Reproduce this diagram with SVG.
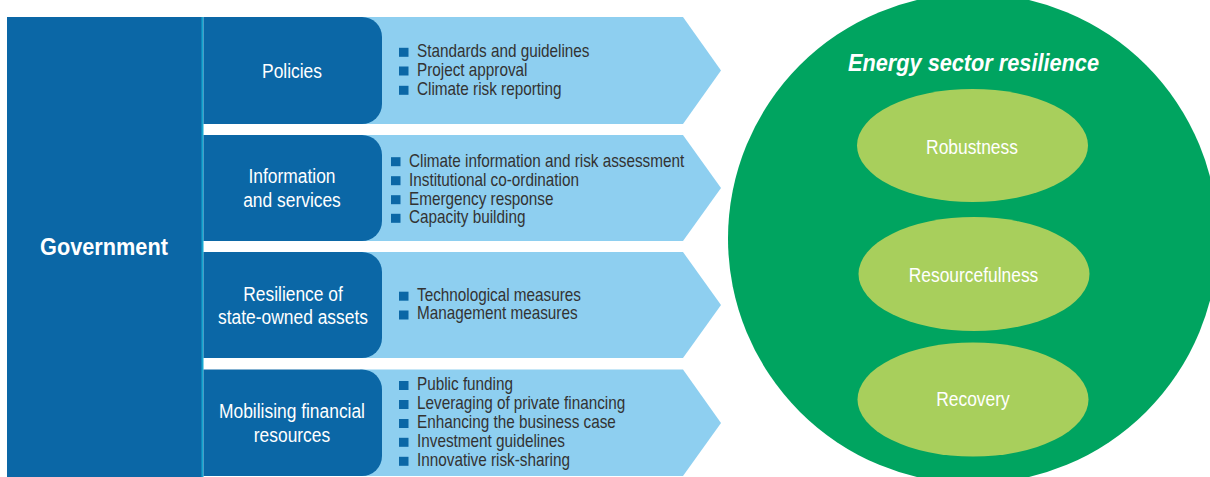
<svg xmlns="http://www.w3.org/2000/svg" width="1210" height="477" viewBox="0 0 1210 477">
<style>
.dk{fill:#0B67A6}
.chev{fill:#8ECFF0}
.cyan{fill:#16A7CF}
.lbl{fill:#FFFFFF;font-family:"Liberation Sans",Arial,sans-serif;font-size:20px;text-anchor:middle}
.itm{fill:#333333;font-family:"Liberation Sans",Arial,sans-serif;font-size:18px}
.sq{fill:#0B67A6}
.ttl{fill:#FFFFFF;font-family:"Liberation Sans",Arial,sans-serif;font-size:24px;font-weight:bold;text-anchor:middle}
.ell{fill:#A8CF5C}
</style>
<rect width="1210" height="477" fill="#FFFFFF"/>

<g id="government">
  <rect class="dk" x="7" y="17" width="195" height="460"/>
  <rect class="cyan" x="201.5" y="17" width="2" height="460"/>
  <text class="ttl" transform="translate(104,255) scale(0.905,1)">Government</text>
</g>

<g id="row-policies">
  <polygon class="chev" points="360,17 683,17 721,70.5 683,124 360,124"/>
  <path class="dk" d="M203.5,17 H362 A20,20 0 0 1 382,37 V104 A20,20 0 0 1 362,124 H203.5 Z"/>
  <text class="lbl" transform="translate(292,78) scale(0.87,1)">Policies</text>
  <rect class="sq" x="399" y="47.8" width="9.5" height="9"/>
  <rect class="sq" x="399" y="66.5" width="9.5" height="9"/>
  <rect class="sq" x="399" y="85.8" width="9.5" height="9"/>
  <text class="itm" transform="translate(417,57.3) scale(0.85,1)">Standards and guidelines</text>
  <text class="itm" transform="translate(417,76) scale(0.85,1)">Project approval</text>
  <text class="itm" transform="translate(417,95.3) scale(0.85,1)">Climate risk reporting</text>
</g>

<g id="row-information">
  <polygon class="chev" points="360,135 683,135 721,188 683,241 360,241"/>
  <path class="dk" d="M203.5,135 H362 A20,20 0 0 1 382,155 V221 A20,20 0 0 1 362,241 H203.5 Z"/>
  <text class="lbl" transform="translate(292,183.3) scale(0.87,1)">Information</text>
  <text class="lbl" transform="translate(292,207.3) scale(0.87,1)">and services</text>
  <rect class="sq" x="391" y="157.2" width="9.5" height="9"/>
  <rect class="sq" x="391" y="176.2" width="9.5" height="9"/>
  <rect class="sq" x="391" y="195.2" width="9.5" height="9"/>
  <rect class="sq" x="391" y="213.8" width="9.5" height="9"/>
  <text class="itm" transform="translate(409,166.7) scale(0.85,1)">Climate information and risk assessment</text>
  <text class="itm" transform="translate(409,185.7) scale(0.85,1)">Institutional co-ordination</text>
  <text class="itm" transform="translate(409,204.7) scale(0.85,1)">Emergency response</text>
  <text class="itm" transform="translate(409,223.3) scale(0.85,1)">Capacity building</text>
</g>

<g id="row-assets">
  <polygon class="chev" points="360,252 683,252 721,305 683,358 360,358"/>
  <path class="dk" d="M203.5,252 H362 A20,20 0 0 1 382,272 V338 A20,20 0 0 1 362,358 H203.5 Z"/>
  <text class="lbl" transform="translate(293,300.7) scale(0.87,1)">Resilience of</text>
  <text class="lbl" transform="translate(293,324.3) scale(0.87,1)">state-owned assets</text>
  <rect class="sq" x="399" y="291.7" width="9.5" height="9"/>
  <rect class="sq" x="399" y="310.5" width="9.5" height="9"/>
  <text class="itm" transform="translate(417,300.5) scale(0.85,1)">Technological measures</text>
  <text class="itm" transform="translate(417,319.3) scale(0.85,1)">Management measures</text>
</g>

<g id="row-financial">
  <polygon class="chev" points="360,369.5 683,369.5 721,423 683,476 360,476"/>
  <path class="dk" d="M203.5,369.5 H362 A20,20 0 0 1 382,389.5 V456 A20,20 0 0 1 362,476 H203.5 Z"/>
  <text class="lbl" transform="translate(292,418) scale(0.87,1)">Mobilising financial</text>
  <text class="lbl" transform="translate(292,442) scale(0.87,1)">resources</text>
  <rect class="sq" x="399" y="381" width="9.5" height="9"/>
  <rect class="sq" x="399" y="400" width="9.5" height="9"/>
  <rect class="sq" x="399" y="419" width="9.5" height="9"/>
  <rect class="sq" x="399" y="437.8" width="9.5" height="9"/>
  <rect class="sq" x="399" y="456.8" width="9.5" height="9"/>
  <text class="itm" transform="translate(417,390.3) scale(0.85,1)">Public funding</text>
  <text class="itm" transform="translate(417,409.3) scale(0.85,1)">Leveraging of private financing</text>
  <text class="itm" transform="translate(417,428.2) scale(0.85,1)">Enhancing the business case</text>
  <text class="itm" transform="translate(417,447) scale(0.85,1)">Investment guidelines</text>
  <text class="itm" transform="translate(417,466) scale(0.85,1)">Innovative risk-sharing</text>
</g>

<g id="resilience">
  <circle cx="973" cy="238.5" r="245" fill="#00A460"/>
  <text class="ttl" font-style="italic" transform="translate(973.5,71) scale(0.905,1)">Energy sector resilience</text>
</g>

<g id="robustness">
  <ellipse class="ell" cx="972.5" cy="145.5" rx="115.5" ry="56.5"/>
  <text class="lbl" transform="translate(972,154) scale(0.87,1)">Robustness</text>
</g>

<g id="resourcefulness">
  <ellipse class="ell" cx="974" cy="274" rx="115.5" ry="57"/>
  <text class="lbl" transform="translate(973.5,281.7) scale(0.87,1)">Resourcefulness</text>
</g>

<g id="recovery">
  <ellipse class="ell" cx="973" cy="399.5" rx="115.5" ry="57"/>
  <text class="lbl" transform="translate(973,406) scale(0.87,1)">Recovery</text>
</g>

<g id="connectors"></g>
</svg>
